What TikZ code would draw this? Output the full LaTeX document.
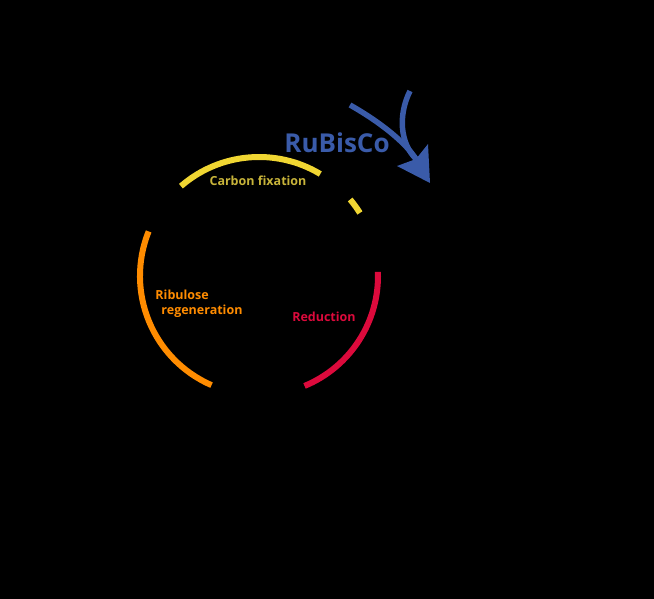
\documentclass[tikz,border=0pt]{standalone}
\usepackage{fontspec}
\setmainfont{Open Sans}
\usepackage{xcolor}
\usepackage{tikz}
\usetikzlibrary{arrows.meta,positioning}

\definecolor{fixyellow}{HTML}{F0D632}
\definecolor{fixtext}{HTML}{C8B43A}
\definecolor{regorange}{HTML}{FF8C00}
\definecolor{redred}{HTML}{DC0A3C}
\definecolor{rubblue}{HTML}{3A5BA9}

\begin{document}
\begin{tikzpicture}[
          x=1pt, y=-1pt,
          every node/.style={font=\bfseries},
          phase/.style={line width=6pt, line cap=butt},
          lab/.style={font=\bfseries\fontsize{12.5}{14.5}\selectfont, inner sep=1pt},
          enz/.style={line width=5.5pt, rubblue},
        ]
          %% page
          \useasboundingbox[fill=black] (0,0) rectangle (654,599);
          \coordinate (c) at (259,276);

          %% cycle arcs
          \draw[phase, fixyellow] ([shift={(-131:119)}]c) arc[start angle=-131, end angle=-59, radius=119];
          \draw[phase, fixyellow] ([shift={(-40:119)}]c)  arc[start angle=-40,  end angle=-32, radius=119];
          \draw[phase, redred]    ([shift={(-2:119)}]c)   arc[start angle=-2,   end angle=67.5, radius=119];
          \draw[phase, regorange] ([shift={(-158:119)}]c) arc[start angle=-158, end angle=-246.5, radius=119];

          %% labels
          \node[lab, text=fixtext]   (fix) at (258,181) {Carbon fixation};
          \node[lab, text=regorange, align=left] (regen) at (199,304) {Ribulose\\\hspace*{6pt}regeneration};
          \node[lab, text=redred]    (red) at (324,317) {Reduction};
          \node[font=\bfseries\fontsize{26}{30}\selectfont, text=rubblue, inner sep=0pt] (rub) at (337,143) {RuBisCo};

          %% enzyme arrow
          \coordinate (in1) at (350,105);
          \coordinate (in2) at (410,91);
          \coordinate (base) at (416,159);
          \draw[enz] (in1) .. controls (380,122) and (405,142) .. (base);
          \draw[enz] (in2) .. controls (398,115) and (400,143) .. (base);
          \fill[rubblue] (397,166) -- (base) -- (428,144) -- (430,183) -- cycle;
        \end{tikzpicture}
\end{document}
